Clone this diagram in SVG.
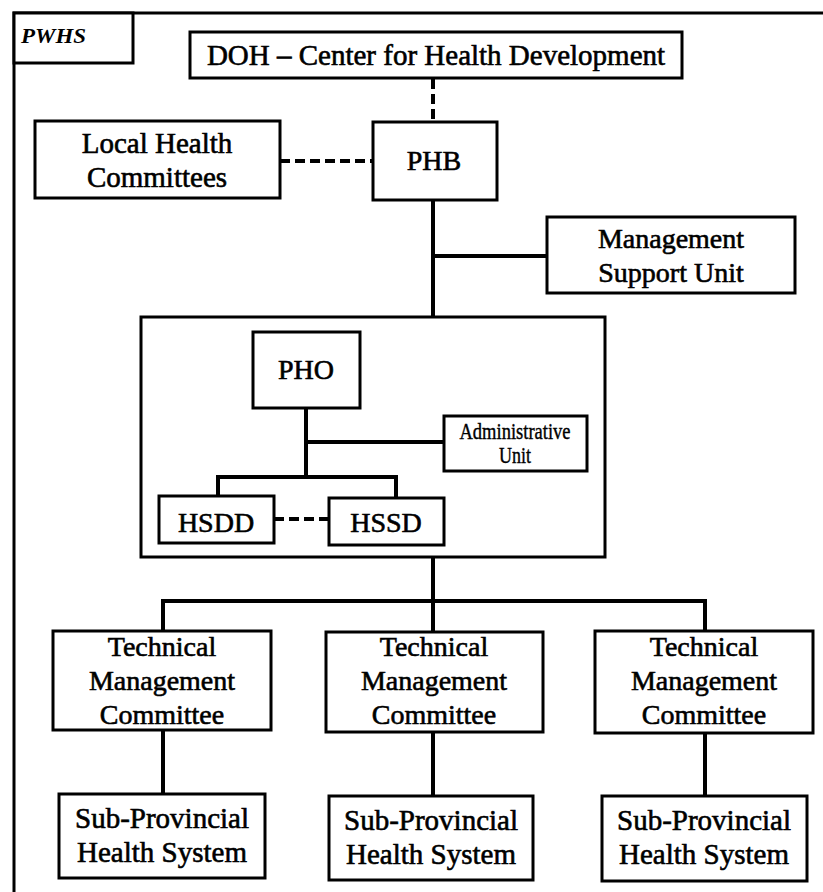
<svg xmlns="http://www.w3.org/2000/svg" width="823" height="892" viewBox="0 0 823 892">
<style>
.box{fill:#fff;stroke:#000;stroke-width:3}
.t{font-family:'Liberation Serif',serif;font-size:28px;fill:#000;text-anchor:middle;stroke:#000;stroke-width:0.6}
.t29{font-size:29px}
.sm{font-size:23px;stroke-width:0.4}
.ln{stroke:#000;stroke-width:4;fill:none}
.dash{stroke:#000;stroke-width:4;fill:none;stroke-dasharray:10 5}
</style>
<rect width="823" height="892" fill="#fff"/>
<g id="frame">
<path d="M14 892 V13 H823" fill="none" stroke="#000" stroke-width="3"/>
</g>
<g id="container">
<rect class="box" x="141" y="317" width="464" height="240"/>
</g>
<g id="connectors">
<path class="dash" d="M433 79 V122"/>
<path class="dash" d="M280 161 H373"/>
<path class="ln" d="M433 200 V317"/>
<path class="ln" d="M433 256 H547"/>
<path class="ln" d="M306 408 V477"/>
<path class="ln" d="M306 442 H444"/>
<path class="ln" d="M218 496 V477 H396 V498"/>
<path class="dash" d="M274 519 H329"/>
<path class="ln" d="M433 557 V632"/>
<path class="ln" d="M163 631 V601 H705 V631"/>
<path class="ln" d="M163 730 V794"/>
<path class="ln" d="M433 732 V796"/>
<path class="ln" d="M705 733 V796"/>
</g>
<g id="pwhs">
<rect class="box" x="14" y="13" width="119" height="50"/>
<text x="21" y="43" font-family="Liberation Serif, serif" font-size="21" font-weight="bold" font-style="italic" textLength="65" lengthAdjust="spacingAndGlyphs">PWHS</text>
</g>
<g id="doh">
<rect class="box" x="190" y="32" width="492" height="46"/>
<text class="t t29" x="436" y="65">DOH – Center for Health Development</text>
</g>
<g id="lhc">
<rect class="box" x="35" y="121" width="245" height="77"/>
<text class="t t29" x="157" y="153">Local Health</text>
<text class="t t29" x="157" y="187">Committees</text>
</g>
<g id="phb">
<rect class="box" x="373" y="122" width="124" height="78"/>
<text class="t" x="434" y="170">PHB</text>
</g>
<g id="msu">
<rect class="box" x="547" y="217" width="248" height="76"/>
<text class="t" x="671" y="248">Management</text>
<text class="t" x="671" y="282">Support Unit</text>
</g>
<g id="pho">
<rect class="box" x="253" y="332" width="107" height="76"/>
<text class="t" x="306" y="379">PHO</text>
</g>
<g id="admin">
<rect class="box" x="444" y="416" width="143" height="55"/>
<text class="t sm" x="515" y="439" textLength="111" lengthAdjust="spacingAndGlyphs">Administrative</text>
<text class="t sm" x="515" y="463" textLength="32" lengthAdjust="spacingAndGlyphs">Unit</text>
</g>
<g id="hsdd">
<rect class="box" x="159" y="496" width="115" height="47"/>
<text class="t" x="216" y="532">HSDD</text>
</g>
<g id="hssd">
<rect class="box" x="329" y="498" width="115" height="47"/>
<text class="t" x="386" y="532">HSSD</text>
</g>
<g id="tmc1">
<rect class="box" x="53" y="631" width="218" height="99"/>
<text class="t" x="162" y="656">Technical</text>
<text class="t" x="162" y="690">Management</text>
<text class="t" x="162" y="724">Committee</text>
</g>
<g id="tmc2">
<rect class="box" x="326" y="632" width="217" height="100"/>
<text class="t" x="434" y="656">Technical</text>
<text class="t" x="434" y="690">Management</text>
<text class="t" x="434" y="724">Committee</text>
</g>
<g id="tmc3">
<rect class="box" x="595" y="631" width="218" height="102"/>
<text class="t" x="704" y="656">Technical</text>
<text class="t" x="704" y="690">Management</text>
<text class="t" x="704" y="724">Committee</text>
</g>
<g id="sub1">
<rect class="box" x="59" y="794" width="206" height="84"/>
<text class="t t29" x="162" y="828">Sub-Provincial</text>
<text class="t t29" x="162" y="862">Health System</text>
</g>
<g id="sub2">
<rect class="box" x="329" y="796" width="204" height="84"/>
<text class="t t29" x="431" y="830">Sub-Provincial</text>
<text class="t t29" x="431" y="864">Health System</text>
</g>
<g id="sub3">
<rect class="box" x="602" y="796" width="205" height="85"/>
<text class="t t29" x="704" y="830">Sub-Provincial</text>
<text class="t t29" x="704" y="864">Health System</text>
</g>
</svg>
